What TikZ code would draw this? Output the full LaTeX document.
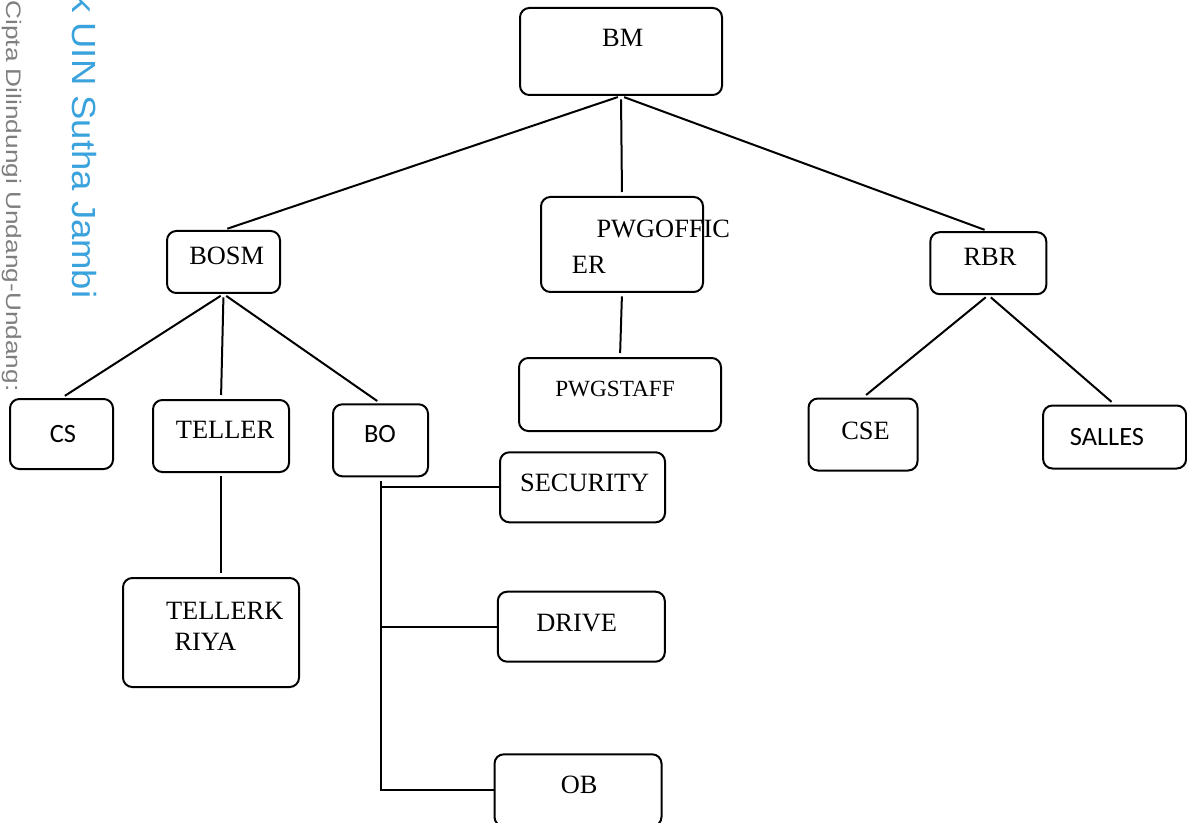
\documentclass[tikz,border=0pt]{standalone}
\usepackage{fontspec}
\setmainfont{Liberation Serif}
\newfontfamily\calibrifont{Carlito}
\newfontfamily\markfont{Liberation Sans}
\usepackage{xcolor}
\usepackage{tikz}
\definecolor{MarkBlue}{HTML}{3AA2DC}
\definecolor{MarkGray}{HTML}{7F7F7F}
\tikzset{
  unitbox/.style 2 args={
    draw,
    line width=1.5pt,
    rounded corners=7pt,
    minimum width=#1*0.75pt,
    minimum height=#2*0.75pt,
    inner sep=0pt
  },
  unitlabel/.style={inner sep=0pt, font=\fontsize{19.8pt}{23pt}\selectfont},
  unitsans/.style={inner sep=0pt, font=\calibrifont\fontsize{19.8pt}{23pt}\selectfont},
  unitlink/.style={line width=1.5pt, shorten <=2.5pt, shorten >=3pt},
  unitelbow/.style={line width=1.5pt, shorten <=3pt},
  watermark/.style={inner sep=0pt, anchor=base west, rotate=-90}
}

\begin{document}
\begin{tikzpicture}[x=0.75pt, y=-0.75pt]
  \useasboundingbox (0,0) rectangle (1187,823);
  % watermark along the left edge
  \node[watermark, xscale=1.25, text=MarkGray, font=\markfont\fontsize{15.75pt}{17pt}\selectfont] (wmcipta) at (6.5,0) {Cipta Dilindungi Undang-Undang:};
  \node[watermark, xscale=1.09, text=MarkBlue, font=\markfont\fontsize{25.1pt}{27pt}\selectfont] (wmuin) at (72.7,-6) {k UIN Sutha Jambi};
  % boxes
  \node[unitbox={202}{87}] (bm) at (621,51.5) {};
  \node[unitbox={113}{62}] (bosm) at (223.5,262) {};
  \node[unitbox={162}{95}] (pwgofficer) at (622,244.5) {};
  \node[unitbox={116}{62}] (rbr) at (988.3,263.2) {};
  \node[unitbox={202}{73}] (pwgstaff) at (620,394.5) {};
  \node[unitbox={103}{70}] (cs) at (61.5,434) {};
  \node[unitbox={136}{72}] (teller) at (221,436) {};
  \node[unitbox={95}{72}] (bo) at (380.5,440.3) {};
  \node[unitbox={176}{109}] (tellerkriya) at (211,632.5) {};
  \node[unitbox={165}{70}] (security) at (582.5,487.3) {};
  \node[unitbox={167}{70}] (drive) at (581.3,626.7) {};
  \node[unitbox={167}{72}] (ob) at (578,790.3) {};
  \node[unitbox={109}{72}] (cse) at (863,434.5) {};
  \node[unitbox={143}{63}] (salles) at (1114.6,437) {};
  % texts
  \node[unitlabel] (bmtext) at (622.7,38.3) {BM};
  \node[unitlabel] (bosmtext) at (226.7,255.5) {BOSM};
  \node[unitlabel] (pwgofficertexta) at (663.3,228.7) {PWGOFFIC};
  \node[unitlabel] (pwgofficertextb) at (588.8,264.7) {ER};
  \node[unitlabel] (rbrtext) at (990,257) {RBR};
  \node[unitlabel, font=\fontsize{17.4pt}{20pt}\selectfont] (pwgstafftext) at (615,389.2) {PWGSTAFF};
  \node[unitsans] (cstext) at (63,434) {CS};
  \node[unitlabel] (tellertext) at (225,430) {TELLER};
  \node[unitsans] (botext) at (380,434.3) {BO};
  \node[unitlabel] (tellerkriyatexta) at (224.7,610.5) {TELLERK};
  \node[unitlabel] (tellerkriyatextb) at (205.3,641.3) {RIYA};
  \node[unitlabel] (securitytext) at (584.7,483.3) {SECURITY};
  \node[unitlabel] (drivetext) at (576.7,623.2) {DRIVE};
  \node[unitlabel] (obtext) at (579.2,785) {OB};
  \node[unitlabel] (csetext) at (865.5,430.8) {CSE};
  \node[unitsans] (sallestext) at (1107,436.7) {SALLES};
  % links
  \draw[unitlink] (bm.south) -- (bosm.north);
  \draw[unitlink] (bm.south) -- (pwgofficer.north);
  \draw[unitlink] (bm.south) -- (rbr.north);
  \draw[unitlink] (bosm.south) -- (cs.north);
  \draw[unitlink] (bosm.south) -- (teller.north);
  \draw[unitlink] (bosm.south) -- (bo.north);
  \draw[unitlink] (teller.south) -- (teller.south |- tellerkriya.north);
  \draw[unitlink] (pwgofficer.south) -- (pwgstaff.north);
  \draw[unitlink] (rbr.south) -- (cse.north);
  \draw[unitlink] (rbr.south) -- (salles.north);
  \draw[unitelbow] (bo.south) |- (security.west);
  \draw[unitelbow] (bo.south) |- (drive.west);
  \draw[unitelbow] (bo.south) |- (ob.west);
\end{tikzpicture}
\end{document}
